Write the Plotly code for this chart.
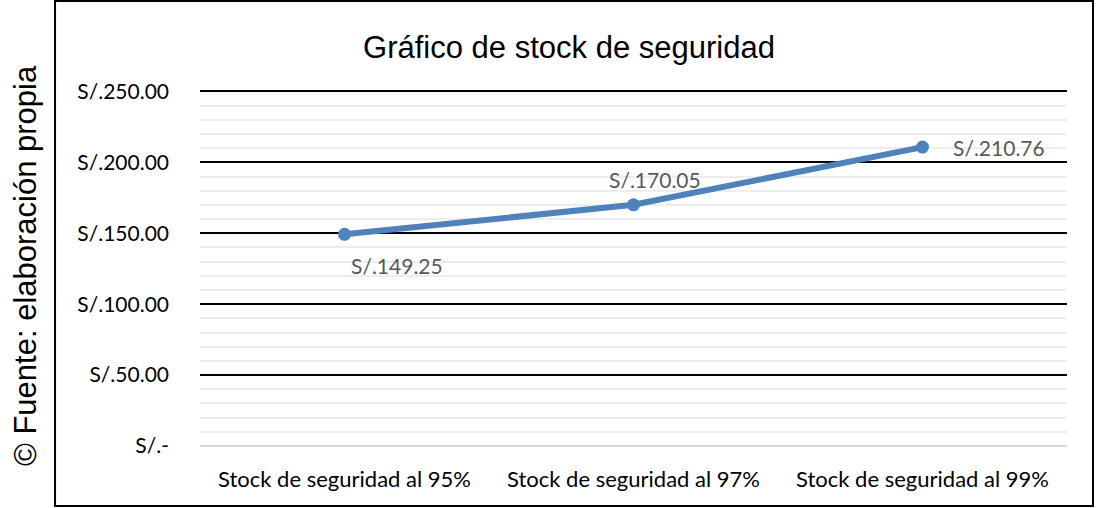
import plotly.graph_objects as go

categories = ["Stock de seguridad al 95%", "Stock de seguridad al 97%", "Stock de seguridad al 99%"]
values = [149.25, 170.05, 210.76]
tick_vals = [0, 50, 100, 150, 200, 250]
tick_text = ["S/.-", "S/.50.00", "S/.100.00", "S/.150.00", "S/.200.00", "S/.250.00"]
labels = ["S/.%.2f" % v for v in values]
label_shift = [(52, -31), (21, 25), (76, 0)]

fig = go.Figure()
fig.add_trace(go.Scatter(
    x=categories, y=values, mode="lines+markers",
    line=dict(color="#4F81BD", width=6),
    marker=dict(color="#4F81BD", size=13),
    hoverinfo="skip", showlegend=False,
))

for c, v, t, (dx, dy) in zip(categories, values, labels, label_shift):
    fig.add_annotation(x=c, y=v, text=t, showarrow=False, xshift=dx, yshift=dy,
                       font=dict(family="Lato", size=21, color="#595959"))

fig.add_annotation(xref="paper", yref="paper", x=-0.2018, y=0.5056,
                   xanchor="center", yanchor="middle",
                   text="© Fuente: elaboración propia", textangle=-90, showarrow=False,
                   font=dict(family="Liberation Sans, Arial", size=31, color="black"))

fig.add_shape(type="rect", xref="paper", yref="paper",
              x0=-0.1672, x1=1.030, y0=-0.1685, y1=1.25,
              line=dict(color="black", width=2), fillcolor="rgba(0,0,0,0)")

fig.update_layout(
    width=1097, height=508,
    margin=dict(l=200, r=30, t=90, b=62),
    paper_bgcolor="white", plot_bgcolor="white",
    title=dict(text="Gráfico de stock de seguridad", x=0.4256, xref="paper", xanchor="center",
               y=1 - 47 / 508, yanchor="middle",
               font=dict(family="Liberation Sans, Arial", size=31, color="black")),
    xaxis=dict(showgrid=False, zeroline=False, showline=False, ticks="",
               tickfont=dict(family="Lato", size=22, color="black"),
               ticklabelstandoff=18, range=[-0.5, 2.5]),
    yaxis=dict(range=[0, 251], tickvals=tick_vals, ticktext=tick_text,
               showgrid=True, gridcolor="black", gridwidth=1.5,
               zeroline=True, zerolinecolor="#d9d9d9", zerolinewidth=2,
               showline=False, ticks="", ticklabelstandoff=30,
               tickfont=dict(family="Lato", size=21, color="black"),
               minor=dict(dtick=10, tick0=0, showgrid=True, gridcolor="#ededed", gridwidth=1.5)),
)

fig.write_html("out.html", config={"displayModeBar": False},
               post_script="document.body.style.margin='0';")
